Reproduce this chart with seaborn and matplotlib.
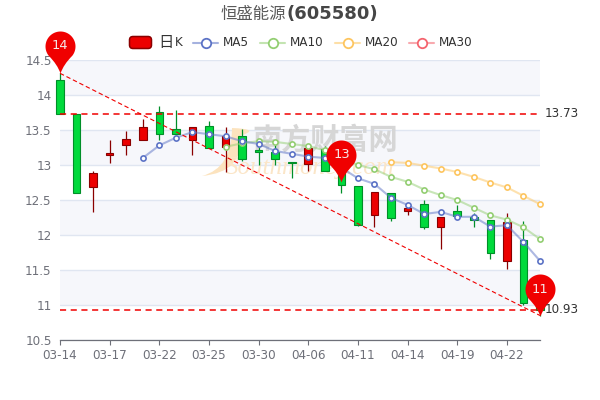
import numpy as np
import pandas as pd
import matplotlib
matplotlib.use("Agg")
import matplotlib.pyplot as plt
import seaborn as sns
from matplotlib.path import Path
from matplotlib.patches import FancyBboxPatch, PathPatch

dates = ["03-14", "03-17", "03-22", "03-25", "03-30", "04-06", "04-11", "04-14", "04-19", "04-22"]
date_idx = [0, 3, 6, 9, 12, 15, 18, 21, 24, 27]

# open/close as top and bottom of body, up = red candle
body_top = [14.22, 13.73, 12.88, 13.17, 13.37, 13.54, 13.76, 13.52, 13.54, 13.55,
            13.41, 13.41, 13.22, 13.18, 13.05, 13.24, 13.23, 13.00, 12.70, 12.62,
            12.60, 12.39, 12.44, 12.25, 12.35, 12.25, 12.22, 12.18, 11.93, 11.10]
body_bot = [13.73, 12.60, 12.69, 13.15, 13.28, 13.36, 13.44, 13.44, 13.36, 13.24,
            13.26, 13.08, 13.18, 13.08, 13.03, 13.01, 12.92, 12.72, 12.14, 12.28,
            12.25, 12.34, 12.12, 12.12, 12.27, 12.22, 11.74, 11.63, 11.03, 10.93]
high = [14.31, 13.73, 12.92, 13.36, 13.49, 13.66, 13.84, 13.79, 13.54, 13.63,
        13.54, 13.51, 13.30, 13.29, 13.05, 13.24, 13.27, 13.00, 12.70, 12.62,
        12.60, 12.42, 12.50, 12.25, 12.43, 12.32, 12.22, 12.32, 12.20, 11.10]
low = [13.73, 12.60, 12.33, 13.03, 13.14, 13.36, 13.36, 13.44, 13.15, 13.24,
       12.90, 13.06, 13.00, 13.00, 12.82, 12.92, 12.92, 12.60, 12.13, 12.11,
       12.20, 12.28, 12.08, 11.80, 12.27, 12.11, 11.66, 11.51, 11.00, 10.85]
is_up = [0, 0, 1, 1, 1, 1, 0, 0, 1, 0,
         1, 0, 0, 0, 0, 1, 0, 0, 0, 1,
         0, 1, 0, 1, 0, 0, 0, 1, 0, 0]

ma5 = [np.nan] * 5 + [13.10, 13.28, 13.39, 13.47, 13.44, 13.41, 13.34, 13.30, 13.20, 13.16,
                      13.12, 13.10, 12.96, 12.81, 12.73, 12.53, 12.43, 12.30, 12.33, 12.26,
                      12.26, 12.12, 12.14, 11.90, 11.63]
ma10 = [np.nan] * 10 + [13.26, 13.31, 13.34, 13.33, 13.30, 13.27, 13.21, 13.10, 13.00, 12.94,
                        12.83, 12.76, 12.65, 12.57, 12.50, 12.39, 12.28, 12.22, 12.11, 11.94]
ma20 = [np.nan] * 20 + [13.04, 13.03, 12.99, 12.95, 12.90, 12.83, 12.75, 12.68, 12.56, 12.44]

pin_idx = [0, 17, 29]
pin_val = [14.32, 12.76, 10.84]
pin_txt = ["14", "13", "11"]

max_price = 13.73
min_price = 10.93

GREY = "#6E7079"
RED, RED_EDGE = "#EC0000", "#8A0000"
GREEN, GREEN_EDGE = "#00DA3C", "#008F28"
MA_COLORS = {"MA5": "#5C73C6", "MA10": "#93CE72", "MA20": "#FDC55F", "MA30": "#F4646E"}

sns.set_theme(style="white")
plt.rcParams["font.family"] = ["DejaVu Sans", "Noto Sans CJK SC"]

df = pd.DataFrame({"i": range(30), "MA5": ma5, "MA10": ma10, "MA20": ma20})
fig = plt.figure(figsize=(6, 4), dpi=100)
ax = fig.add_axes([60 / 600, 60 / 400, 480 / 600, 280 / 400])
ax.set_xlim(0, 29)
ax.set_ylim(10.5, 14.5)

# stripes and grid
for y0 in [11, 12, 13, 14]:
    ax.axhspan(y0, y0 + 0.5, color="#F6F7FB", lw=0, zorder=0)
ax.set_yticks(np.arange(10.5, 14.6, 0.5))
ax.set_yticklabels(["10.5", "11", "11.5", "12", "12.5", "13", "13.5", "14", "14.5"])
ax.set_xticks(date_idx)
ax.set_xticklabels(dates)
ax.grid(axis="y", color="#E0E6F1", lw=1, zorder=1)
ax.set_axisbelow(True)
ax.tick_params(axis="x", colors=GREY, labelsize=8.64, length=3.6, width=0.8, pad=3, bottom=True)
ax.tick_params(axis="y", colors=GREY, labelsize=8.64, length=0, pad=6)
for s in ["top", "left", "right"]:
    ax.spines[s].set_visible(False)
ax.spines["bottom"].set_color(GREY)
ax.spines["bottom"].set_linewidth(0.9)

# page overlay in pixels, for watermark and legend
page = fig.add_axes([0, 0, 1, 1], zorder=-1)
page.set_xlim(0, 600)
page.set_ylim(400, 0)
page.axis("off")
ax.patch.set_alpha(0)

swoosh = Path([(202, 176), (232, 168), (232, 128), (262, 129), (240, 136), (244, 172), (202, 176)],
              [Path.MOVETO, Path.CURVE3, Path.CURVE3, Path.CURVE3, Path.CURVE3, Path.CURVE3, Path.CLOSEPOLY])
ax.add_patch(PathPatch(swoosh, transform=page.transData, fc="#FCE3BE", ec="none", zorder=1.5, clip_on=False))
ax.text(325, 140, "南方财富网", transform=page.transData, ha="center", va="center", fontsize=21,
        family="Noto Sans CJK SC", weight="bold", color="#D6D6D6", style="italic", zorder=1.5)
ax.text(310, 168, "Southmoney.com", transform=page.transData, ha="center", va="center", fontsize=18,
        family="Liberation Serif", style="italic", color="#FBE6C8", zorder=1.5)

# candles
for i in range(30):
    fc, ec = (RED, RED_EDGE) if is_up[i] else (GREEN, GREEN_EDGE)
    ax.vlines(i, low[i], high[i], color=ec, lw=0.9, zorder=3, clip_on=False)
    ax.bar(i, body_top[i] - body_bot[i], bottom=body_bot[i], width=0.46, color=fc, edgecolor=ec,
           linewidth=0.8, zorder=3, clip_on=False)

# moving averages
for name in ["MA20", "MA10", "MA5"]:
    c = MA_COLORS[name]
    sns.lineplot(data=df, x="i", y=name, ax=ax, color=c, lw=1.5, alpha=0.5, zorder=4, legend=False)
    sns.scatterplot(data=df, x="i", y=name, ax=ax, s=14, color="white", edgecolor=c, linewidth=1.2,
                    zorder=5, legend=False, clip_on=False)
ax.set_xlabel("")
ax.set_ylabel("")

# max and min lines
ax.plot([0, 29], [max_price, max_price], color="#F00000", lw=1.1, ls=(0, (4, 3)), zorder=6)
ax.plot([0, 29], [min_price, min_price], color="#F00000", lw=1.1, ls=(0, (4, 3)), zorder=6)
ax.plot([0, 29], [high[0], low[-1]], color="#F00000", lw=0.8, ls=(0, (4, 2.5)), zorder=6, clip_on=False)
for price in [max_price, min_price]:
    ax.annotate(f"{price:.2f}", (29, price), xytext=(3.6, 0), textcoords="offset points", color="#333333",
                fontsize=8.64, va="center", ha="left", annotation_clip=False, zorder=9)

# pins, tip sits on the value
ang = np.radians(np.linspace(-38, 218, 50))
vx = list(15 * np.cos(ang))
vy = list(27 + 15 * np.sin(ang))
verts = [(vx[0], vy[0])] + list(zip(vx[1:], vy[1:])) + [(-3, 9), (0, 0), (3, 9), (vx[0], vy[0]), (vx[0], vy[0])]
codes = [Path.MOVETO] + [Path.LINETO] * 49 + [Path.CURVE3, Path.CURVE3, Path.CURVE3, Path.CURVE3, Path.CLOSEPOLY]
pin = Path(verts, codes)
size = 2 * max(abs(np.array(verts)).max(axis=0)) * 0.72
for x, y, t in zip(pin_idx, pin_val, pin_txt):
    ax.plot([x], [y], marker=pin, ms=size, mfc="#F00000", mec="none", zorder=8, clip_on=False)
    ax.annotate(t, (x, y), xytext=(0, 19.4), textcoords="offset points", ha="center", va="center",
                color="#F5E8E8", fontsize=9.4, zorder=9, annotation_clip=False)

# title
top = fig.add_axes([0, 0, 1, 1], zorder=10)
top.set_xlim(0, 600)
top.set_ylim(400, 0)
top.axis("off")
top.text(286, 14, "恒盛能源", ha="right", va="center", fontsize=11.8, family="Noto Sans CJK SC", color="#5A5A5A")
top.text(287, 14, "(605580)", ha="left", va="center", fontsize=12.96, weight="bold", color="#464646")

# legend
top.add_patch(FancyBboxPatch((129.5, 36.5), 22, 12, boxstyle="round,pad=0,rounding_size=3.5",
                             fc=RED, ec=RED_EDGE, lw=1.1))
top.text(158, 42, "日", ha="left", va="center", fontsize=11, family="Noto Sans CJK SC", color="#333333")
top.text(174.5, 43, "K", ha="left", va="center", fontsize=8.64, color="#333333")
for name, x0 in [("MA5", 193), ("MA10", 260), ("MA20", 335), ("MA30", 409)]:
    c = MA_COLORS[name]
    top.plot([x0, x0 + 25], [42.5, 42.5], color=c, lw=1.5, alpha=0.55)
    top.plot([x0 + 12.5], [42.5], "o", ms=6.8, mfc="white", mec=c, mew=1.3)
    top.text(x0 + 30, 43, name, ha="left", va="center", fontsize=8.64, color="#333333")

fig.savefig("out.png", dpi=100)
